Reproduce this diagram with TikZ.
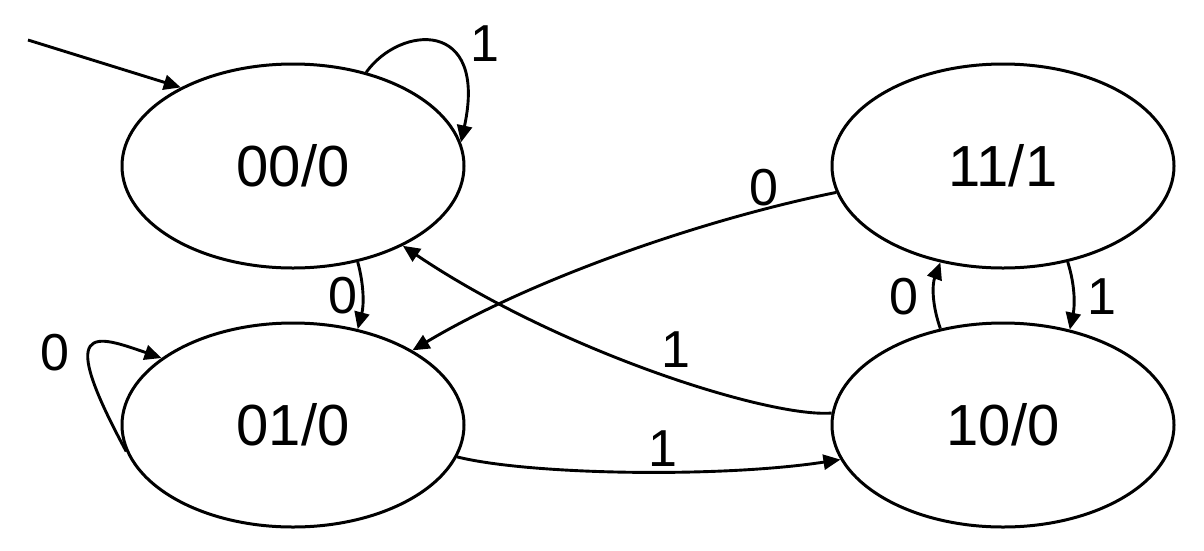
\documentclass[tikz,border=0pt]{standalone}
\usepackage{fontspec}
\setmainfont{Liberation Sans}
\usetikzlibrary{shapes.geometric,arrows.meta}
\begin{document}
\begin{tikzpicture}[x=1pt,y=-1pt,
  state/.style={draw,ellipse,line width=3pt,minimum width=342pt,minimum height=204pt,inner sep=0pt,font=\fontsize{58}{68}\selectfont},
  lbl/.style={inner sep=0pt,font=\fontsize{52}{60}\selectfont},
  conn/.style={line width=2.9pt,-{Triangle[length=17pt,width=15pt]}}]
\useasboundingbox (0,0) rectangle (1204,550);
\node[state] (s00) at (293,166) {00/0};
\node[state] (s01) at (293,425) {01/0};
\node[state] (s11) at (1003,166) {11/1};
\node[state] (s10) at (1003,425) {10/0};
\coordinate (init) at (28,40);
% connectors
\draw[conn] (init) -- (s00.145.3);
\draw[conn] (s00.52.6) .. controls (400,25) and (488,18) .. (s00.8.1);
\draw[conn] (s00.-56.2) .. controls (364,285) and (364,305) .. (s01.56.4);
\draw[conn] (s01.189.3) .. controls (55,320) and (95,335) .. (s01.153.8);
\draw[conn] (s11.189.2) .. controls (700,220) and (530,280) .. (s01.32.5);
\draw[conn] (s10.176) .. controls (770,418) and (560,352) .. (s00.-36.5);
\draw[conn] (s01.-11.4) .. controls (530,475) and (720,478) .. (s10.192.3);
\draw[conn] (s10.123) .. controls (932,305) and (932,285) .. (s11.237.1);
\draw[conn] (s11.304.1) .. controls (1075,285) and (1075,305) .. (s10.55.6);
% labels
\node[lbl] (l1) at (485,44) {1};
\node[lbl] (l2) at (343,296) {0};
\node[lbl] (l3) at (55,353) {0};
\node[lbl] (l4) at (764,188) {0};
\node[lbl] (l5) at (676,350) {1};
\node[lbl] (l6) at (663,449) {1};
\node[lbl] (l7) at (904,297) {0};
\node[lbl] (l8) at (1102,297) {1};
\end{tikzpicture}
\end{document}
